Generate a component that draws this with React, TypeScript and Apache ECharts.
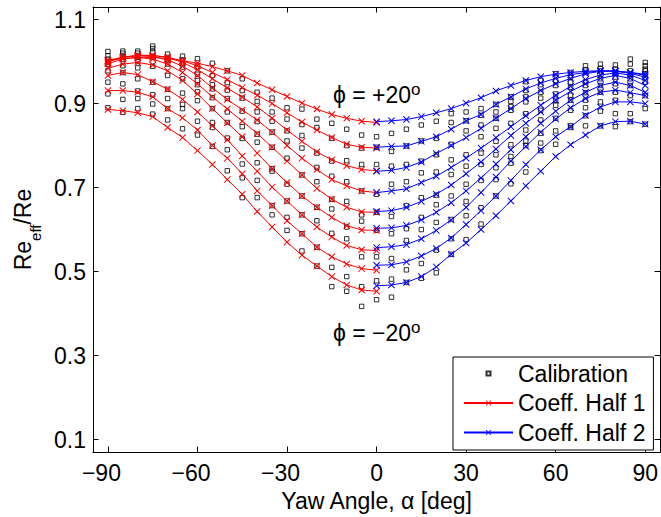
import React, { useEffect, useRef } from 'react';
import * as echarts from 'echarts';

// ---- data ----
const half1Angles = [-90, -85, -80, -75, -70, -65, -60, -55, -50, -45, -40, -35, -30, -25, -20, -15, -10, -5, 0];
const half2Angles = [0, 5, 10, 15, 20, 25, 30, 35, 40, 45, 50, 55, 60, 65, 70, 75, 80, 85, 90];
const calibrationAngles = [-90, -85, -80, -75, -70, -65, -60, -55, -50, -45, -40, -35, -30, -25, -20, -15, -10, -5, 0,
  5, 10, 15, 20, 25, 30, 35, 40, 45, 50, 55, 60, 65, 70, 75, 80, 85, 90];
const xTicks = [-90, -60, -30, 0, 30, 60, 90];
const yTicks = [0.1, 0.3, 0.5, 0.7, 0.9, 1.1];

// Coeff. Half 1 (red), phi = +20 ... -20
const h1P20 = [1.003, 1.007, 1.010, 1.010, 1.007, 1.002, 0.996, 0.988, 0.978, 0.967, 0.949, 0.933, 0.917, 0.901, 0.887, 0.874, 0.865, 0.858, 0.855];
const h1P15 = [1.003, 1.010, 1.014, 1.014, 1.010, 1.002, 0.990, 0.974, 0.957, 0.938, 0.920, 0.900, 0.878, 0.856, 0.837, 0.819, 0.803, 0.796, 0.794];
const h1P10 = [1.001, 1.011, 1.015, 1.015, 1.010, 0.998, 0.981, 0.959, 0.937, 0.915, 0.892, 0.865, 0.837, 0.810, 0.785, 0.766, 0.752, 0.743, 0.740];
const h1P5 = [0.999, 1.010, 1.014, 1.012, 1.004, 0.989, 0.967, 0.937, 0.910, 0.885, 0.861, 0.832, 0.800, 0.770, 0.743, 0.719, 0.704, 0.692, 0.688];
const h1P0 = [0.995, 1.006, 1.010, 1.006, 0.994, 0.974, 0.947, 0.916, 0.887, 0.858, 0.829, 0.796, 0.763, 0.730, 0.698, 0.672, 0.653, 0.642, 0.641];
const h1M5 = [0.984, 0.994, 0.998, 0.992, 0.978, 0.955, 0.923, 0.888, 0.854, 0.821, 0.782, 0.745, 0.712, 0.680, 0.653, 0.629, 0.609, 0.599, 0.598];
const h1M10 = [0.967, 0.974, 0.969, 0.952, 0.934, 0.910, 0.880, 0.847, 0.814, 0.775, 0.739, 0.701, 0.668, 0.635, 0.606, 0.582, 0.562, 0.552, 0.550];
const h1M15 = [0.931, 0.931, 0.927, 0.916, 0.888, 0.866, 0.837, 0.800, 0.770, 0.733, 0.692, 0.657, 0.621, 0.590, 0.558, 0.535, 0.518, 0.507, 0.503];
const h1M20 = [0.886, 0.883, 0.878, 0.869, 0.843, 0.819, 0.788, 0.755, 0.719, 0.684, 0.643, 0.606, 0.570, 0.539, 0.513, 0.488, 0.468, 0.456, 0.453];

// Coeff. Half 2 (blue), phi = +20 ... -20
const h2P20 = [0.857, 0.859, 0.862, 0.869, 0.878, 0.888, 0.901, 0.914, 0.930, 0.943, 0.955, 0.964, 0.970, 0.974, 0.977, 0.978, 0.977, 0.974, 0.970];
const h2P15 = [0.796, 0.798, 0.799, 0.810, 0.821, 0.839, 0.859, 0.874, 0.898, 0.916, 0.935, 0.949, 0.960, 0.969, 0.974, 0.978, 0.978, 0.974, 0.967];
const h2P10 = [0.739, 0.741, 0.748, 0.761, 0.781, 0.800, 0.819, 0.841, 0.865, 0.888, 0.912, 0.931, 0.947, 0.960, 0.971, 0.977, 0.977, 0.972, 0.963];
const h2P5 = [0.688, 0.692, 0.697, 0.712, 0.727, 0.748, 0.770, 0.794, 0.819, 0.845, 0.871, 0.896, 0.920, 0.941, 0.957, 0.968, 0.973, 0.968, 0.955];
const h2P0 = [0.643, 0.645, 0.653, 0.667, 0.684, 0.706, 0.733, 0.761, 0.792, 0.824, 0.853, 0.880, 0.908, 0.929, 0.947, 0.960, 0.967, 0.960, 0.943];
const h2M5 = [0.603, 0.604, 0.610, 0.623, 0.641, 0.664, 0.692, 0.723, 0.756, 0.790, 0.821, 0.853, 0.882, 0.908, 0.927, 0.943, 0.951, 0.943, 0.927];
const h2M10 = [0.557, 0.559, 0.564, 0.578, 0.598, 0.623, 0.653, 0.688, 0.725, 0.763, 0.798, 0.832, 0.863, 0.890, 0.912, 0.927, 0.932, 0.926, 0.919];
const h2M15 = [0.515, 0.516, 0.523, 0.537, 0.555, 0.580, 0.612, 0.645, 0.680, 0.717, 0.755, 0.790, 0.821, 0.845, 0.872, 0.892, 0.904, 0.904, 0.900];
const h2M20 = [0.466, 0.468, 0.474, 0.488, 0.511, 0.541, 0.568, 0.600, 0.633, 0.668, 0.704, 0.739, 0.774, 0.802, 0.825, 0.847, 0.857, 0.858, 0.851];

const half1Curves = [h1P20, h1P15, h1P10, h1P5, h1P0, h1M5, h1M10, h1M15, h1M20];
const half2Curves = [h2P20, h2P15, h2P10, h2P5, h2P0, h2M5, h2M10, h2M15, h2M20];

// Calibration points, one list per yaw angle (same order as calibrationAngles)
const calibration = [
  [1.024, 1.014, 1.006, 0.999, 0.994, 0.978, 0.951, 0.923, 0.890],
  [1.025, 1.020, 1.012, 1.005, 0.990, 0.974, 0.947, 0.910, 0.879],
  [1.025, 1.020, 1.012, 1.000, 0.985, 0.959, 0.930, 0.912, 0.888],
  [1.037, 1.031, 1.023, 1.012, 0.989, 0.951, 0.921, 0.899, 0.875],
  [1.018, 1.010, 1.004, 0.994, 0.967, 0.934, 0.912, 0.888, 0.861],
  [1.013, 1.004, 0.995, 0.987, 0.959, 0.925, 0.898, 0.888, 0.840],
  [1.007, 0.987, 0.970, 0.955, 0.945, 0.928, 0.907, 0.858, 0.825],
  [0.996, 0.967, 0.945, 0.935, 0.914, 0.888, 0.855, 0.843, 0.798],
  [0.978, 0.950, 0.932, 0.912, 0.880, 0.855, 0.818, 0.790, 0.740],
  [0.959, 0.931, 0.913, 0.882, 0.845, 0.817, 0.756, 0.723, 0.676],
  [0.927, 0.905, 0.880, 0.857, 0.827, 0.808, 0.759, 0.717, 0.676],
  [0.913, 0.880, 0.858, 0.832, 0.796, 0.745, 0.739, 0.657, 0.635],
  [0.890, 0.863, 0.835, 0.811, 0.770, 0.708, 0.668, 0.629, 0.598],
  [0.887, 0.850, 0.824, 0.794, 0.730, 0.680, 0.635, 0.590, 0.549],
  [0.863, 0.843, 0.782, 0.748, 0.714, 0.653, 0.621, 0.558, 0.513],
  [0.853, 0.817, 0.763, 0.727, 0.672, 0.649, 0.591, 0.510, 0.464],
  [0.839, 0.800, 0.764, 0.714, 0.667, 0.606, 0.578, 0.488, 0.453],
  [0.825, 0.794, 0.755, 0.692, 0.635, 0.620, 0.535, 0.464, 0.417],
  [0.821, 0.796, 0.755, 0.684, 0.641, 0.598, 0.535, 0.478, 0.433],
  [0.829, 0.786, 0.751, 0.708, 0.631, 0.590, 0.531, 0.482, 0.439],
  [0.839, 0.799, 0.755, 0.714, 0.657, 0.602, 0.574, 0.504, 0.474],
  [0.849, 0.811, 0.763, 0.735, 0.676, 0.629, 0.600, 0.519, 0.484],
  [0.858, 0.817, 0.778, 0.737, 0.682, 0.659, 0.617, 0.551, 0.497],
  [0.876, 0.855, 0.803, 0.766, 0.731, 0.680, 0.624, 0.578, 0.541],
  [0.880, 0.859, 0.835, 0.778, 0.751, 0.708, 0.667, 0.633, 0.576],
  [0.888, 0.872, 0.849, 0.821, 0.782, 0.755, 0.717, 0.652, 0.613],
  [0.898, 0.880, 0.865, 0.841, 0.810, 0.778, 0.747, 0.719, 0.680],
  [0.916, 0.905, 0.893, 0.884, 0.853, 0.802, 0.774, 0.758, 0.709],
  [0.952, 0.931, 0.916, 0.904, 0.876, 0.837, 0.811, 0.800, 0.737],
  [0.955, 0.945, 0.927, 0.913, 0.884, 0.861, 0.829, 0.806, 0.788],
  [0.971, 0.955, 0.943, 0.923, 0.908, 0.896, 0.865, 0.835, 0.803],
  [0.974, 0.963, 0.951, 0.939, 0.920, 0.908, 0.884, 0.847, 0.843],
  [0.990, 0.981, 0.952, 0.943, 0.926, 0.908, 0.890, 0.871, 0.847],
  [0.994, 0.984, 0.978, 0.959, 0.943, 0.927, 0.904, 0.882, 0.847],
  [0.992, 0.982, 0.974, 0.963, 0.947, 0.927, 0.908, 0.876, 0.845],
  [1.006, 0.994, 0.978, 0.970, 0.959, 0.943, 0.919, 0.876, 0.857],
  [0.998, 0.990, 0.982, 0.978, 0.970, 0.951, 0.919, 0.888, 0.851],
];

const FONT = "'Liberation Sans', Arial, Helvetica, sans-serif";
const X_SYMBOL = 'path://M0,1L1,0L5,4L9,0L10,1L6,5L10,9L9,10L5,6L1,10L0,9L4,5Z';
const SQUARE_ICON = 'path://M0,3.5L0.01,3.5M49,3.5L48.99,3.5M22.5,1.5L26.5,1.5L26.5,5.5L22.5,5.5Z';

export default function App() {
  const ref = useRef<HTMLDivElement>(null);

  useEffect(() => {
    if (!ref.current) return;
    const chart = echarts.init(ref.current, undefined, { renderer: 'svg' });

    const calData: number[][] = [];
    calibrationAngles.forEach((a, i) => {
      calibration[i].forEach((v) => calData.push([a, v]));
    });

    const lineSeries = (name: string, color: string, angles: number[], values: number[]) => ({
      type: 'line',
      name,
      data: angles.map((a, i) => [a, values[i]]),
      symbol: X_SYMBOL,
      symbolSize: 7,
      showSymbol: true,
      lineStyle: { color, width: 1 },
      itemStyle: { color },
      silent: true,
      z: 3,
    });

    const series: any[] = [
      {
        type: 'scatter',
        name: 'Calibration',
        data: calData,
        symbol: 'rect',
        symbolSize: 4.4,
        itemStyle: { color: 'rgba(0,0,0,0)', borderColor: '#000', borderWidth: 1 },
        silent: true,
        z: 2,
      },
      ...half1Curves.map((c) => lineSeries('Coeff. Half 1', '#ff0000', half1Angles, c)),
      ...half2Curves.map((c) => lineSeries('Coeff. Half 2', '#0000ff', half2Angles, c)),
    ];

    const axisCommon = {
      type: 'value',
      splitLine: { show: false },
      axisLine: { show: true, onZero: false, lineStyle: { color: '#000', width: 1 } },
    };

    const superRich = {
      a: { fontSize: 23, fontFamily: FONT, fill: '#000', lineHeight: 28 },
      s: { fontSize: 17, fontFamily: FONT, fill: '#000', verticalAlign: 'top' },
    };

    chart.setOption({
      animation: false,
      backgroundColor: '#fff',
      textStyle: { fontFamily: FONT },
      grid: { left: 93, right: -2, top: 7, bottom: 60, containLabel: false },
      xAxis: [
        {
          ...axisCommon,
          position: 'bottom',
          min: -95,
          max: 95,
          axisTick: { show: true, inside: true, length: 5.5, customValues: xTicks, lineStyle: { color: '#000' } },
          axisLabel: {
            customValues: xTicks,
            margin: 9,
            fontSize: 23,
            color: '#000',
            fontFamily: FONT,
            formatter: (v: number) => (v < 0 ? `{neg|\u2212${Math.abs(v)}}` : `${v}`),
            rich: { neg: { fontSize: 23, fontFamily: FONT, color: '#000', padding: [0, 13, 0, 0] } },
          },
          name: 'Yaw Angle, \u03b1 [deg]',
          nameLocation: 'middle',
          nameGap: 31,
          nameTextStyle: { fontSize: 23, color: '#000', fontFamily: FONT },
        },
        {
          ...axisCommon,
          position: 'top',
          min: -95,
          max: 95,
          axisTick: { show: true, inside: true, length: 5.5, customValues: xTicks, lineStyle: { color: '#000' } },
          axisLabel: { show: false },
        },
      ],
      yAxis: [
        {
          ...axisCommon,
          position: 'left',
          min: 0.07,
          max: 1.13,
          axisTick: { show: true, inside: true, length: 5.5, customValues: yTicks, lineStyle: { color: '#000' } },
          axisLabel: {
            customValues: yTicks,
            margin: 7,
            fontSize: 23,
            color: '#000',
            fontFamily: FONT,
            formatter: (v: number) => v.toFixed(1),
          },
          name: '{a|Re}{s|eff}{a|/Re}',
          nameLocation: 'middle',
          nameGap: 50,
          nameTextStyle: {
            color: '#000',
            fontFamily: FONT,
            rich: {
              a: { fontSize: 23, fontFamily: FONT, color: '#000', verticalAlign: 'top' },
              s: { fontSize: 15, fontFamily: FONT, color: '#000', lineHeight: 32, verticalAlign: 'bottom' },
            },
          },
        },
        {
          ...axisCommon,
          position: 'right',
          min: 0.07,
          max: 1.13,
          axisTick: { show: true, inside: true, length: 5.5, customValues: yTicks, lineStyle: { color: '#000' } },
          axisLabel: { show: false },
        },
      ],
      legend: {
        orient: 'vertical',
        left: 453,
        top: 357,
        padding: [5, 8, 6, 10],
        itemGap: 6.5,
        itemWidth: 49,
        itemHeight: 7,
        backgroundColor: '#fff',
        borderColor: '#000',
        borderWidth: 1,
        borderRadius: 0,
        selectedMode: false,
        textStyle: { fontSize: 23, color: '#000', fontFamily: FONT },
        data: [
          { name: 'Calibration', icon: SQUARE_ICON },
          { name: 'Coeff. Half 1' },
          { name: 'Coeff. Half 2' },
        ],
      },
      graphic: [
        {
          type: 'text',
          x: 333,
          y: 95,
          silent: true,
          style: {
            text: '{a|\u03d5 = +20}{s|o}',
            verticalAlign: 'middle',
            align: 'left',
            rich: superRich,
          },
        },
        {
          type: 'text',
          x: 333,
          y: 333,
          silent: true,
          style: {
            text: '{a|\u03d5 = \u221220}{s|o}',
            verticalAlign: 'middle',
            align: 'left',
            rich: superRich,
          },
        },
      ],
      series,
    });

    return () => chart.dispose();
  }, []);

  return <div ref={ref} style={{ position: 'absolute', left: 0, top: 0, width: 661, height: 517 }} />;
}
